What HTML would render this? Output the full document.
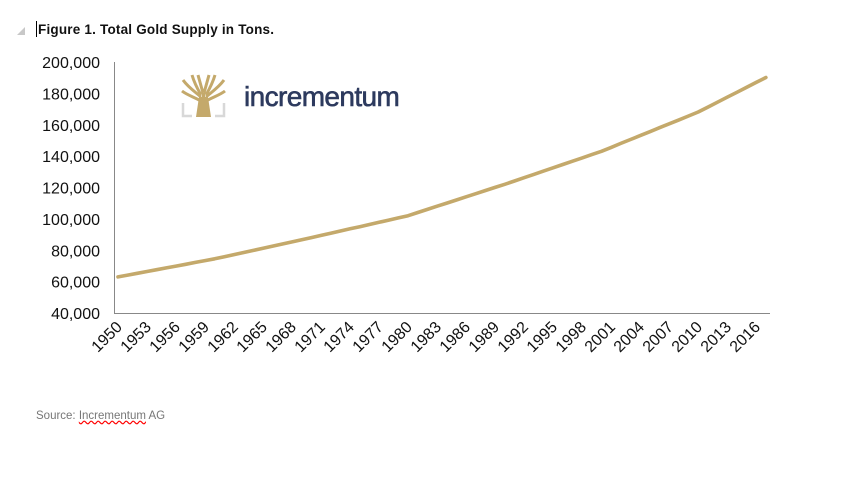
<!DOCTYPE html>
<html><head><style>
body{margin:0;width:852px;height:490px;background:#fff;position:relative;overflow:hidden;font-family:"Liberation Sans",Arial,sans-serif}
.t{position:absolute;white-space:nowrap}
</style></head><body>
<div class="t" style="left:17px;top:27px;width:0;height:0;border-left:8px solid transparent;border-bottom:8px solid #c8c8c8"></div>
<div class="t" style="left:36px;top:21px;width:1px;height:16px;background:#000"></div>
<div class="t" style="left:38px;top:22px;font-size:13.5px;letter-spacing:0.2px;font-weight:bold;color:#111">Figure 1. Total Gold Supply in Tons.</div>
<div class="t" style="left:36px;top:410px;font-size:11.5px;color:#777">Source: <span style="text-decoration:underline wavy red">Incrementum</span> AG</div>
<svg id="s" width="852" height="490" style="position:absolute;left:0;top:0">
<line x1="114.5" y1="62" x2="114.5" y2="313" stroke="#888" stroke-width="1"/>
<line x1="114" y1="313.5" x2="770" y2="313.5" stroke="#888" stroke-width="1"/>
<g transform="translate(182,75)" stroke="#c4a96b" fill="none" stroke-width="3">
<path d="M21.5 40 V18 M19 26 C12 22 5 20 0 16 M19 22 C12 16 6 12 1 5 M19 20 C15 13 12 7 10 0 M21 18 L16 0 M22 18 L27 0 M24 20 C28 13 31 7 33 0 M24 22 C31 16 37 12 42 5 M24 26 C31 22 38 20 43 16"/>
<path d="M14 42 L17 22 L26 22 L29 42Z" fill="#c4a96b" stroke="none"/>
<path d="M1 28 V41 H10 M42 28 V41 H33" stroke="#d8d8d8" stroke-width="2.5"/>
</g>
<text x="244" y="106" font-family="Liberation Sans,Arial,sans-serif" font-size="28" fill="#2d3a5e" stroke="#2d3a5e" stroke-width="0.6" letter-spacing="-0.6">incrementum</text>
</svg>
<script>
const s=document.getElementById('s');const ns='http://www.w3.org/2000/svg';
const y0=313,ppu=31.4/20000;
for(let i=0;i<=8;i++){const v=40000+i*20000;const t=document.createElementNS(ns,'text');t.setAttribute('x',100);t.setAttribute('y',y0-i*31.375+6);t.setAttribute('text-anchor','end');t.setAttribute('font-size','16');t.setAttribute('fill','#111');t.textContent=v.toLocaleString('en-US');s.appendChild(t);}
const xs=y=>118+(y-1950)*9.67;
for(let y=1950;y<=2016;y+=3){const t=document.createElementNS(ns,'text');const x=xs(y)+5,yy=328;t.setAttribute('x',x);t.setAttribute('y',yy);t.setAttribute('text-anchor','end');t.setAttribute('font-size','16');t.setAttribute('fill','#111');t.setAttribute('transform',`rotate(-45 ${x} ${yy})`);t.textContent=y;s.appendChild(t);}
const a=[[1950,63000],[1960,74500],[1970,88000],[1980,102000],[1990,122000],[2000,143000],[2010,168000],[2017,190000]];
let d='';
for(let y=1950;y<=2017;y++){let i=0;while(i<a.length-2&&y>a[i+1][0])i++;const [x1,v1]=a[i],[x2,v2]=a[i+1];const v=v1+(v2-v1)*(y-x1)/(x2-x1);d+=(d?'L':'M')+xs(y).toFixed(1)+' '+(y0-(v-40000)*ppu).toFixed(1);}
const p=document.createElementNS(ns,'path');p.setAttribute('d',d);p.setAttribute('stroke','#c4a96b');p.setAttribute('stroke-width','3.6');p.setAttribute('fill','none');p.setAttribute('stroke-linejoin','round');p.setAttribute('stroke-linecap','round');s.appendChild(p);
</script>
</body></html>
